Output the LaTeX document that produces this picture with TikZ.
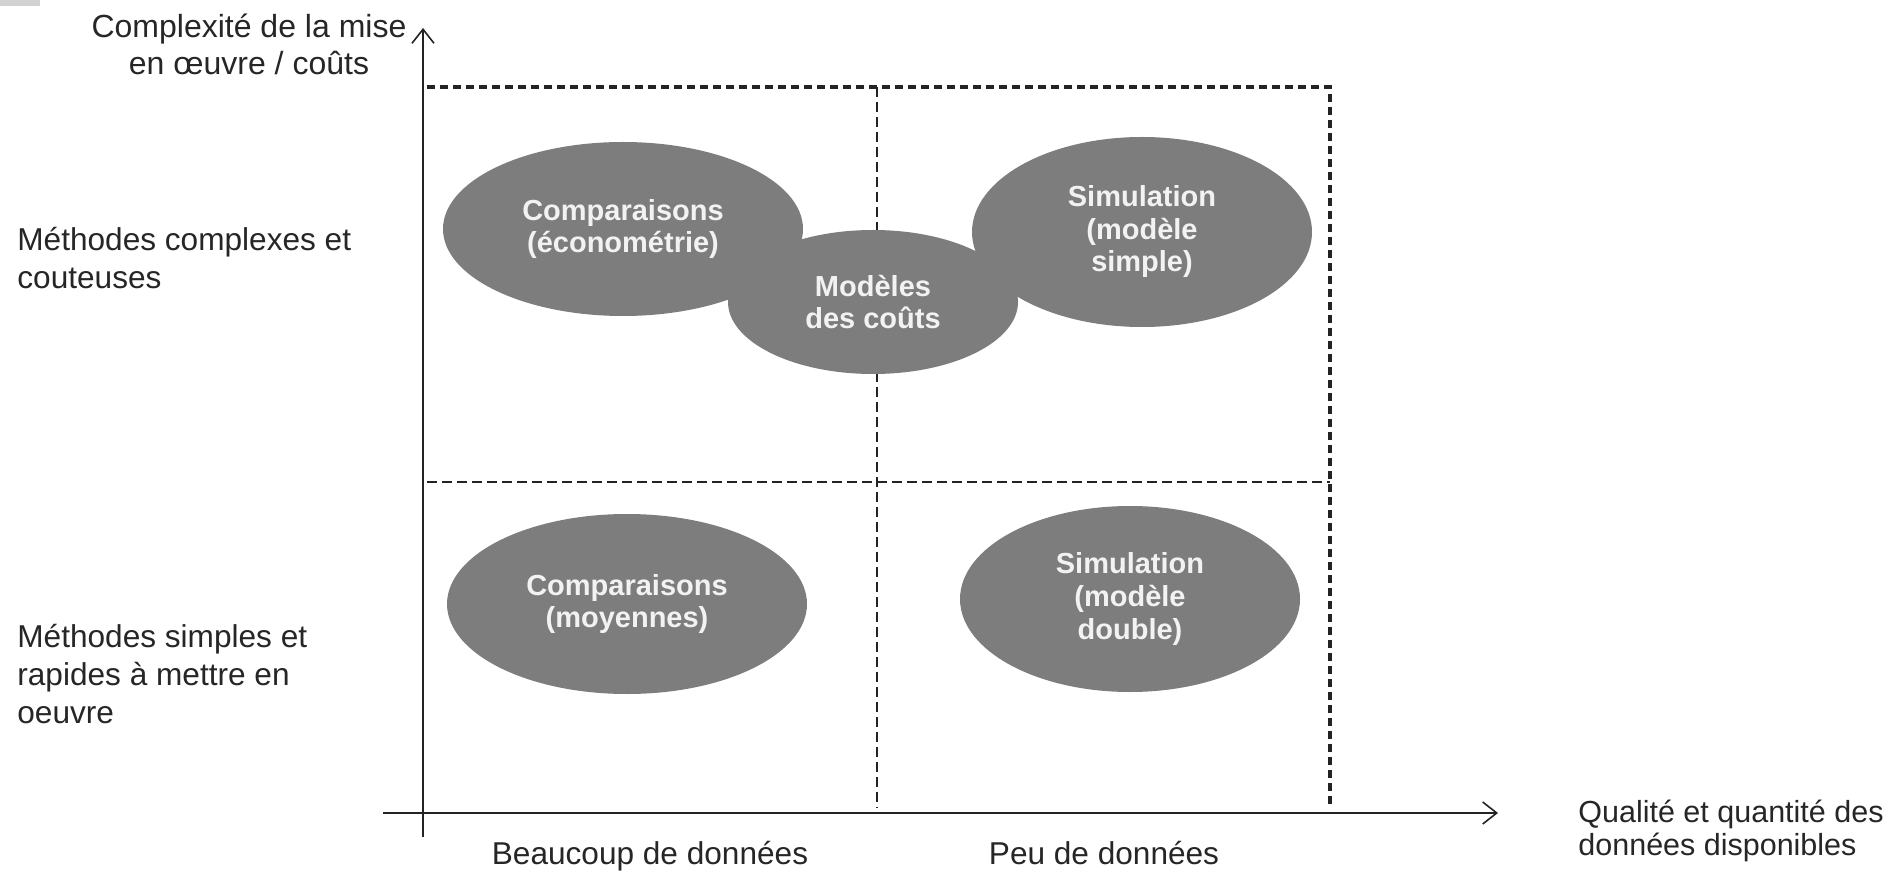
\documentclass[tikz,border=0pt]{standalone}
\usepackage{fontspec}
\setmainfont{Liberation Sans}
\usetikzlibrary{arrows.meta,shapes.geometric}
\definecolor{ellgray}{RGB}{125,125,125}
\definecolor{txtwhite}{RGB}{242,242,242}
\definecolor{linecol}{RGB}{35,35,35}
\begin{document}
\begin{tikzpicture}[x=0.5pt,y=-0.5pt,
  lab/.style={font=\fontsize{15.8}{19}\selectfont, inner sep=0pt, text=black!85},
  blob/.style={ellipse, fill=ellgray, draw=none, inner sep=0pt,
    font=\bfseries\fontsize{14.5}{16.25}\selectfont, text=txtwhite, align=center},
  axisline/.style={line width=1pt, draw=linecol,
    -{Straight Barb[length=7pt,width=11pt,line width=0.8pt]}},
  outerdash/.style={line width=1.6pt, draw=linecol, dash pattern=on 4pt off 2.5pt},
  innerdash/.style={line width=0.7pt, draw=linecol, dash pattern=on 5pt off 2.5pt}]
\useasboundingbox (0,0) rectangle (1894,871);
\fill[gray!35] (0,0) rectangle (40,6);

% grid coordinates
\coordinate (tl) at (427,87);
\coordinate (tm) at (877,87);
\coordinate (tr) at (1330,87);
\coordinate (ml) at (427,482);
\coordinate (mr) at (1330,482);
\coordinate (bm) at (877,808);
\coordinate (br) at (1330,808);

\draw[outerdash] (tl) -- (tr) -- (br);
\draw[innerdash] (tm) -- (bm);
\draw[innerdash] (ml) -- (mr);

% axes
\coordinate (yb) at (423,837);
\coordinate (yt) at (423,28);
\coordinate (xl) at (383,813);
\coordinate (xr) at (1498,813);
\draw[axisline] (yb) -- (yt);
\draw[axisline] (xl) -- (xr);

% ellipses
\node[blob, minimum width=180pt, minimum height=87pt] (e1) at (623,229) {Comparaisons\\(économétrie)};
\node[blob, minimum width=170pt, minimum height=95pt] (e3) at (1142,232) {Simulation\\(modèle\\simple)};
\node[blob, minimum width=145pt, minimum height=72pt] (e2) at (873,302) {Modèles\\des coûts};
\node[blob, minimum width=180pt, minimum height=90pt] (e4) at (627,604) {Comparaisons\\(moyennes)};
\node[blob, minimum width=170pt, minimum height=93pt] (e5) at (1130,599) {Simulation\\(modèle\\double)};

% labels (anchor=base is the baseline of the last line)
\node[lab, align=center, anchor=base, font=\fontsize{16}{18.5}\selectfont] (ytitle) at (249,75) {Complexité de la mise\\en œuvre / coûts};
\node[lab, align=left, anchor=base west] (hi) at (17,289) {Méthodes complexes et\\couteuses};
\node[lab, align=left, anchor=base west] (lo) at (17,723) {Méthodes simples et\\rapides à mettre en\\oeuvre};
\node[lab, anchor=base] (x1) at (650,864) {Beaucoup de données};
\node[lab, anchor=base] (x2) at (1104,864) {Peu de données};
\node[lab, align=left, anchor=base west, font=\fontsize{15.25}{16.5}\selectfont] (xtitle) at (1578,855) {Qualité et quantité des\\données disponibles};
\end{tikzpicture}
\end{document}
